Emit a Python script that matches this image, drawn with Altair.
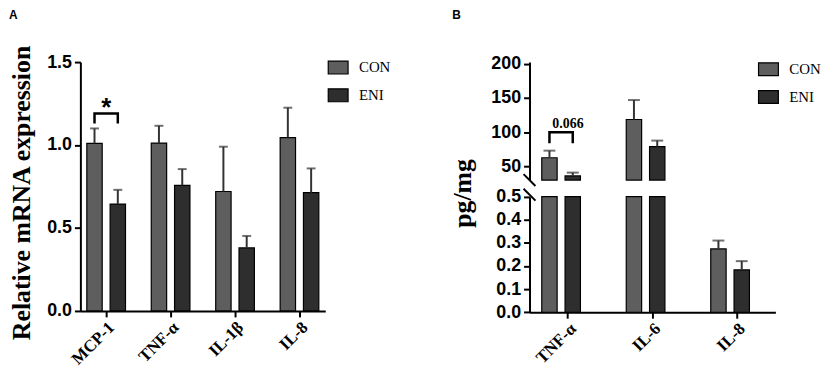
import altair as alt
import pandas as pd

groups = ["CON", "ENI"]
colors = ["#5e5e5e", "#2e2e2e"]

genes_a = ["MCP-1", "TNF-α", "IL-1β", "IL-8"]
con_a = [1.01, 1.012, 0.72, 1.045]
con_a_sem = [0.09, 0.104, 0.27, 0.18]
eni_a = [0.644, 0.757, 0.38, 0.713]
eni_a_sem = [0.086, 0.098, 0.072, 0.146]

genes_b = ["TNF-α", "IL-6", "IL-8"]
con_b = [62.6, 118.6, 0.274]
con_b_sem = [10.4, 28.4, 0.036]
eni_b = [36.0, 79.0, 0.183]
eni_b_sem = [4.9, 8.7, 0.038]

a_ticks = [0, 0.5, 1.0, 1.5]
b_upper_ticks = [50, 100, 150, 200]
b_lower_ticks = [0, 0.1, 0.2, 0.3, 0.4, 0.5]


def make_df(genes, con, con_sem, eni, eni_sem):
    rows = []
    for g, c, cs, e, es in zip(genes, con, con_sem, eni, eni_sem):
        rows.append({"gene": g, "group": "CON", "value": c, "upper": c + cs})
        rows.append({"gene": g, "group": "ENI", "value": e, "upper": e + es})
    return pd.DataFrame(rows)


df_a = make_df(genes_a, con_a, con_a_sem, eni_a, eni_a_sem)
df_a["base"] = 0.0
df_b = make_df(genes_b, con_b, con_b_sem, eni_b, eni_b_sem)
df_b_up = df_b[df_b["gene"] != "IL-8"].copy()
df_b_up["base"] = 30.0
df_b_lo = df_b.copy()
df_b_lo["base"] = 0.0
df_b_lo_err = df_b[df_b["gene"] == "IL-8"].copy()

SERIF = "Liberation Serif"
SANS = "Liberation Sans"
TICK_FS = 18
XLAB_FS = 17

color_scale = alt.Scale(domain=groups, range=colors)


def legend(lx, ly):
    return alt.Legend(orient="none", legendX=lx, legendY=ly, title=None,
                      symbolType="M-1,-0.65H1V0.65H-1Z", symbolSize=400,
                      symbolStrokeColor="black", symbolStrokeWidth=1.2,
                      labelFont=SERIF, labelFontSize=15, labelColor="black",
                      labelOffset=10, rowPadding=8, padding=0)


def xaxis():
    return alt.Axis(labelAngle=-45, labelFont=SERIF, labelFontWeight="bold",
                    labelFontSize=XLAB_FS, labelColor="black", tickSize=6, tickWidth=2,
                    domainWidth=2, labelPadding=2, domainColor="black", tickColor="black")


# ---------------- Panel A ----------------
xA = alt.X("gene:N", scale=alt.Scale(type="band", domain=genes_a, paddingInner=0.4, paddingOuter=0.1),
           axis=xaxis(), title=None)
xoA = alt.XOffset("group:N", scale=alt.Scale(domain=groups, paddingInner=0.34, paddingOuter=0))
scaleA = alt.Scale(domain=[0, 1.5], nice=False, zero=True)
axisA = alt.Axis(values=a_ticks, format=".1f", labelFont=SANS, labelFontWeight="bold",
                 labelFontSize=TICK_FS, labelColor="black", tickSize=6, tickWidth=2, domainWidth=2,
                 labelPadding=3, domainColor="black", tickColor="black",
                 titleFont=SERIF, titleFontSize=26, titleFontWeight="bold", titleColor="black",
                 titleX=-46, titleY=131.5)
TITLE_A = "Relative mRNA expression"


def yA(f):
    return alt.Y(f, scale=scaleA, axis=axisA, title=TITLE_A)


baseA = alt.Chart(df_a)
barsA = baseA.mark_bar(stroke="black", strokeWidth=1.2).encode(
    x=xA, xOffset=xoA, y=yA("value:Q"), y2="base:Q",
    color=alt.Color("group:N", scale=color_scale, legend=legend(249, -5.5)))
errA = baseA.mark_rule(color="#333333", strokeWidth=2).encode(
    x=xA, xOffset=xoA, y=yA("value:Q"), y2="upper:Q")
capA = baseA.mark_tick(color="#333333", thickness=2, size=9).encode(
    x=xA, xOffset=xoA, y=yA("upper:Q"))

bracketA_df = pd.DataFrame({"gene": ["MCP-1"] * 4, "group": ["CON", "CON", "ENI", "ENI"],
                            "v": [1.13, 1.19, 1.19, 1.13], "o": [0, 1, 2, 3]})
bracketA = alt.Chart(bracketA_df).mark_line(color="black", strokeWidth=2.5, strokeJoin="miter").encode(
    x=xA, xOffset=xoA, y=yA("v:Q"), order="o:Q")
starA = alt.Chart(pd.DataFrame({"gene": ["MCP-1"], "v": [1.19], "t": ["*"]})).mark_text(
    font=SANS, fontWeight="bold", fontSize=26, baseline="alphabetic", dy=3, color="black").encode(
    x=xA, y=yA("v:Q"), text="t:N")
labelA = alt.Chart(pd.DataFrame({"t": ["A"]})).mark_text(
    font=SANS, fontWeight="bold", fontSize=12, align="left", baseline="alphabetic", color="black").encode(
    x=alt.value(-72), y=alt.value(-43), text="t:N")

panelA = alt.layer(barsA, errA, capA, bracketA, starA, labelA).properties(width=247, height=251)

# ---------------- Panel B ----------------
xB = alt.X("gene:N", scale=alt.Scale(type="band", domain=genes_b, paddingInner=0.38, paddingOuter=0.145),
           axis=xaxis(), title=None)
xoB = alt.XOffset("group:N", scale=alt.Scale(domain=groups, paddingInner=0.374, paddingOuter=0))

scaleBu = alt.Scale(domain=[30, 202.5], range=[119, 0], clamp=True, nice=False, zero=False)
axisBu = alt.Axis(values=b_upper_ticks, format="d", labelFont=SANS, labelFontWeight="bold",
                  labelFontSize=TICK_FS, labelColor="black", tickSize=6, tickWidth=2, domainWidth=2,
                  labelPadding=3, domainColor="black", tickColor="black", orient="left")
scaleBl = alt.Scale(domain=[0, 0.5], range=[252.3, 135.7], clamp=True, nice=False, zero=False)
axisBl = alt.Axis(values=b_lower_ticks, format=".1f", labelFont=SANS, labelFontWeight="bold",
                  labelFontSize=TICK_FS, labelColor="black", tickSize=6, tickWidth=2, domainWidth=2,
                  labelPadding=3, domainColor="black", tickColor="black", orient="left",
                  titleFont=SERIF, titleFontSize=26, titleFontWeight="bold", titleColor="black",
                  titleX=-55, titleY=132)


def yBu(f):
    return alt.Y(f, scale=scaleBu, axis=axisBu, title=None)


def yBl(f):
    return alt.Y(f, scale=scaleBl, axis=axisBl, title="pg/mg")


legB = legend(230, -3.8)

barsBu = alt.Chart(df_b_up).mark_bar(stroke="black", strokeWidth=1.2).encode(
    x=xB, xOffset=xoB, y=yBu("value:Q"), y2="base:Q",
    color=alt.Color("group:N", scale=color_scale, legend=legB))
errBu = alt.Chart(df_b_up).mark_rule(color="#333333", strokeWidth=2).encode(
    x=xB, xOffset=xoB, y=yBu("value:Q"), y2="upper:Q")
capBu = alt.Chart(df_b_up).mark_tick(color="#333333", thickness=2, size=12).encode(
    x=xB, xOffset=xoB, y=yBu("upper:Q"))
bracketB_df = pd.DataFrame({"gene": ["TNF-α"] * 4, "group": ["CON", "CON", "ENI", "ENI"],
                            "v": [84, 100, 100, 84], "o": [0, 1, 2, 3]})
bracketB = alt.Chart(bracketB_df).mark_line(color="black", strokeWidth=2.5, strokeJoin="miter").encode(
    x=xB, xOffset=xoB, y=yBu("v:Q"), order="o:Q")
pB = alt.Chart(pd.DataFrame({"gene": ["TNF-α"], "v": [106.7], "t": ["0.066"]})).mark_text(
    font=SERIF, fontWeight="bold", fontSize=14, baseline="alphabetic", color="black").encode(
    x=xB, y=yBu("v:Q"), text="t:N")
slashU = alt.Chart(pd.DataFrame({"v": [30.0]})).mark_rule(
    color="black", strokeWidth=2, yOffset=-6, y2Offset=6).encode(
    y=yBu("v:Q"), y2="v:Q", x=alt.value(-6), x2=alt.value(6))
labelB = alt.Chart(pd.DataFrame({"t": ["B"]})).mark_text(
    font=SANS, fontWeight="bold", fontSize=12, align="left", baseline="alphabetic", color="black").encode(
    x=alt.value(-78), y=alt.value(-43), text="t:N")
upper = alt.layer(barsBu, errBu, capBu, bracketB, pB, slashU, labelB)

barsBl = alt.Chart(df_b_lo).mark_bar(stroke="black", strokeWidth=1.2).encode(
    x=xB, xOffset=xoB, y=yBl("value:Q"), y2="base:Q",
    color=alt.Color("group:N", scale=color_scale, legend=legB))
errBl = alt.Chart(df_b_lo_err).mark_rule(color="#333333", strokeWidth=2).encode(
    x=xB, xOffset=xoB, y=yBl("value:Q"), y2="upper:Q")
capBl = alt.Chart(df_b_lo_err).mark_tick(color="#333333", thickness=2, size=12).encode(
    x=xB, xOffset=xoB, y=yBl("upper:Q"))
slashL = alt.Chart(pd.DataFrame({"v": [0.5]})).mark_rule(
    color="black", strokeWidth=2, yOffset=-8, y2Offset=4).encode(
    y=yBl("v:Q"), y2="v:Q", x=alt.value(-6), x2=alt.value(6))
lower = alt.layer(barsBl, errBl, capBl, slashL)

panelB = alt.layer(upper, lower).resolve_scale(y="independent").properties(width=248, height=252.3)

chart = alt.hconcat(panelA, panelB, spacing=206, bounds="flush").resolve_scale(
    color="independent").resolve_legend(color="independent").properties(
    padding=0).configure_view(stroke=None).configure_axis(grid=False)

chart.save("out.html", embed_options={"renderer": "svg", "actions": False})
